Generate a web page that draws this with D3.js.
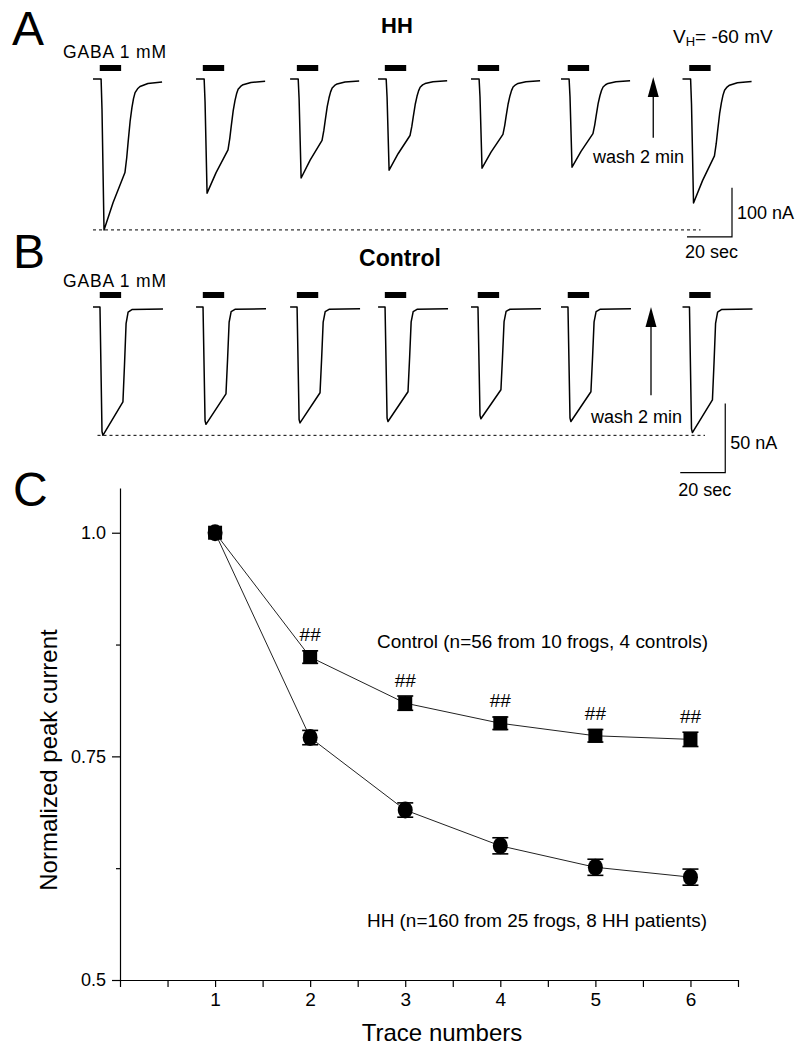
<!DOCTYPE html>
<html lang="en">
<head>
<meta charset="UTF-8">
<title>GABA currents HH vs Control</title>
<script src="https://d3js.org/d3.v7.min.js"></script>
<style>
  body { margin: 0; background: #fff; }
  svg text { font-family: "Liberation Sans", Arial, sans-serif; fill: #000; }
</style>
</head>
<body>
<div id="chart"></div>
<script>
// ---- data ----
// start of each displayed sweep on the common time axis (s)
const traceStart = [0, 45.8, 87.6, 126.7, 168, 208, 262];
// peak inward current of each sweep (nA)
const hhPeaks = [308, 233, 202, 186, 182, 180, 253];
const ctlPeaks = [93, 85, 84, 83, 81, 83, 91];
// sweep shape: [time in sweep (s), fraction of peak]
const hhShape = [[0, 0], [3.6, 0], [4.0, 0.2], [4.9, 1.0], [8.9, 0.82], [14.2, 0.62], [15.0, 0.52],
  [15.6, 0.42], [16.5, 0.28], [17.3, 0.19], [18.0, 0.13], [18.7, 0.09], [19.8, 0.065], [20.9, 0.05],
  [24.4, 0.03], [30.7, 0.02]];
const ctlShape = [[0, 0], [3.1, 0], [4.0, 0.97], [4.4, 1.0], [13.3, 0.74], [14.0, 0.45], [14.7, 0.13],
  [15.6, 0.04], [17.3, 0.02], [31.1, 0.015]];
const gabaWindow = [3, 12.5];

// panel C
const traceNums = [1, 2, 3, 4, 5, 6];
const hhMean = [1.0, 0.771, 0.690, 0.650, 0.626, 0.615];
const hhErr = [0, 0.008, 0.008, 0.009, 0.009, 0.009];
const ctlMean = [1.0, 0.861, 0.8095, 0.787, 0.773, 0.769];
const ctlErr = [0, 0.007, 0.008, 0.007, 0.007, 0.008];
const sigMarks = ["", "##", "##", "##", "##", "##"];
const yMajor = [0.5, 0.75, 1.0];
const yMinor = [0.625, 0.875];
const xTickVals = d3.range(0, 6.51, 0.5);

const svg = d3.select("#chart").append("svg")
  .attr("width", 806).attr("height", 1050);
svg.append("rect").attr("width", 806).attr("height", 1050).attr("fill", "#fff");

// ---- panels A and B ----
const xT = d3.scaleLinear().domain([0, 20]).range([93, 138]);
const yA = d3.scaleLinear().domain([0, -100]).range([79, 128]);
const yB = d3.scaleLinear().domain([0, -50]).range([307, 376]);

function drawTraces(g, yS, shape, peaks, barY) {
  const line = d3.line();
  traceStart.forEach((t0, i) => {
    const pts = shape.map(d => [xT(t0 + d[0]), yS(-peaks[i] * d[1])]);
    g.append("path").attr("d", line(pts))
      .attr("fill", "none").attr("stroke", "#000").attr("stroke-width", 1.5)
      .attr("stroke-linejoin", "round");
    g.append("rect")
      .attr("x", xT(t0 + gabaWindow[0]))
      .attr("y", barY)
      .attr("width", xT(t0 + gabaWindow[1]) - xT(t0 + gabaWindow[0]))
      .attr("height", 6).attr("fill", "#000");
  });
}

function arrow(g, x, y1, y2) {
  g.append("line").attr("x1", x).attr("x2", x).attr("y1", y1).attr("y2", y2 + 18)
    .attr("stroke", "#000").attr("stroke-width", 1.3);
  g.append("path").attr("d", `M${x},${y2} L${x - 5.5},${y2 + 20} L${x + 5.5},${y2 + 20} Z`)
    .attr("fill", "#000");
}

function scaleBar(g, yS, tEnd, iTop, iBot, vLabel, vLabelDy, hLabelDy) {
  const xr = xT(tEnd), xl = xT(tEnd - 20);
  g.append("path")
    .attr("d", `M${xr},${yS(iTop)} L${xr},${yS(iBot)} L${xl},${yS(iBot)}`)
    .attr("fill", "none").attr("stroke", "#000").attr("stroke-width", 1.2);
  g.append("text").attr("x", xr + 5).attr("y", yS(iBot) + vLabelDy)
    .attr("font-size", 18).text(vLabel);
  g.append("text").attr("x", xl - 2).attr("y", yS(iBot) + hLabelDy)
    .attr("font-size", 18).text("20 sec");
}

// panel A
const gA = svg.append("g");
gA.append("text").attr("x", 12).attr("y", 45).attr("font-size", 48).text("A");
gA.append("text").attr("x", 397).attr("y", 33).attr("font-size", 22)
  .attr("font-weight", "bold").attr("text-anchor", "middle").text("HH");
gA.append("text").attr("x", 63).attr("y", 58).attr("font-size", 17.5)
  .attr("textLength", 103).attr("lengthAdjust", "spacing").text("GABA 1 mM");
const vh = gA.append("text").attr("x", 673).attr("y", 43).attr("font-size", 19);
vh.append("tspan").text("V");
vh.append("tspan").attr("font-size", 13).attr("dy", 3).text("H");
vh.append("tspan").attr("dy", -3).text("= -60 mV");
gA.append("line").attr("x1", xT(0)).attr("x2", xT(270))
  .attr("y1", yA(-hhPeaks[0])).attr("y2", yA(-hhPeaks[0]))
  .attr("stroke", "#000").attr("stroke-width", 1).attr("stroke-dasharray", "3,3");
drawTraces(gA, yA, hhShape, hhPeaks, yA(0) - 14);
arrow(gA, xT(249), yA(-120), yA(4));
gA.append("text").attr("x", 593).attr("y", 163).attr("font-size", 18).text("wash 2 min");
scaleBar(gA, yA, 284, -222, -322, "100 nA", -18, 21);

// panel B
const gB = svg.append("g");
gB.append("text").attr("x", 13).attr("y", 268).attr("font-size", 48).text("B");
gB.append("text").attr("x", 400).attr("y", 266).attr("font-size", 23)
  .attr("font-weight", "bold").attr("text-anchor", "middle").text("Control");
gB.append("text").attr("x", 63).attr("y", 287).attr("font-size", 17.5)
  .attr("textLength", 103).attr("lengthAdjust", "spacing").text("GABA 1 mM");
gB.append("line").attr("x1", xT(2)).attr("x2", xT(272))
  .attr("y1", yB(-ctlPeaks[0])).attr("y2", yB(-ctlPeaks[0]))
  .attr("stroke", "#000").attr("stroke-width", 1).attr("stroke-dasharray", "3,3");
drawTraces(gB, yB, ctlShape, ctlPeaks, yB(0) - 15);
arrow(gB, xT(248), yB(-64), yB(0));
gB.append("text").attr("x", 591).attr("y", 423).attr("font-size", 18).text("wash 2 min");
scaleBar(gB, yB, 281, -70, -120, "50 nA", -24, 23);

// ---- panel C ----
const gC = svg.append("g");
gC.append("text").attr("x", 13).attr("y", 506).attr("font-size", 48).text("C");

const x = d3.scaleLinear().domain([0, 6.5]).range([120, 738]);
const y = d3.scaleLinear().domain([0.5, 1.05]).range([980, 488]);

const yAxis = gC.append("g").attr("transform", "translate(120,0)")
  .call(d3.axisLeft(y).tickValues(yMajor).tickSize(8).tickSizeOuter(0).tickPadding(6)
    .tickFormat(d => d === 1 ? "1.0" : String(d)));
gC.append("g").attr("transform", "translate(120,0)")
  .call(d3.axisLeft(y).tickValues(yMinor).tickSize(4).tickFormat(""))
  .select(".domain").remove();
const xAxis = gC.append("g").attr("transform", "translate(0,980)")
  .call(d3.axisBottom(x).tickValues(xTickVals).tickSize(7).tickSizeOuter(0).tickPadding(6)
    .tickFormat(d => (Number.isInteger(d) && d > 0) ? d : ""));
gC.selectAll(".domain, .tick line").attr("stroke", "#000").attr("stroke-width", 1.2);
yAxis.selectAll("text").attr("font-size", 18).attr("font-family", "Liberation Sans");
xAxis.selectAll("text").attr("font-size", 19).attr("font-family", "Liberation Sans");

gC.append("text").attr("transform", "translate(57,760) rotate(-90)")
  .attr("text-anchor", "middle").attr("font-size", 24).text("Normalized peak current");
gC.append("text").attr("x", 442).attr("y", 1041)
  .attr("text-anchor", "middle").attr("font-size", 24).text("Trace numbers");

const hhData = traceNums.map((t, i) => ({ t, v: hhMean[i], e: hhErr[i] }));
const ctlData = traceNums.map((t, i) => ({ t, v: ctlMean[i], e: ctlErr[i], s: sigMarks[i] }));

const ln = d3.line().x(d => x(d.t)).y(d => y(d.v));
[hhData, ctlData].forEach(ds => {
  gC.append("path").datum(ds).attr("d", ln)
    .attr("fill", "none").attr("stroke", "#222").attr("stroke-width", 1);
});

function errBars(ds) {
  const eb = gC.append("g").selectAll("g").data(ds.filter(d => d.e > 0)).enter().append("g")
    .attr("stroke", "#000").attr("stroke-width", 1.6);
  eb.append("line").attr("x1", d => x(d.t)).attr("x2", d => x(d.t))
    .attr("y1", d => y(d.v + d.e)).attr("y2", d => y(d.v - d.e));
  [1, -1].forEach(s => {
    eb.append("line").attr("x1", d => x(d.t) - 8).attr("x2", d => x(d.t) + 8)
      .attr("y1", d => y(d.v + s * d.e)).attr("y2", d => y(d.v + s * d.e));
  });
}
errBars(hhData);
errBars(ctlData);

gC.selectAll(".sq").data(ctlData).enter().append("rect")
  .attr("x", d => x(d.t) - 7).attr("y", d => y(d.v) - 7)
  .attr("width", 14).attr("height", 14).attr("fill", "#000");
gC.selectAll(".dot").data(hhData).enter().append("ellipse")
  .attr("cx", d => x(d.t)).attr("cy", d => y(d.v))
  .attr("rx", 7.5).attr("ry", 8.5).attr("fill", "#000");

gC.selectAll(".sig").data(ctlData.filter(d => d.s)).enter().append("text")
  .attr("x", d => x(d.t)).attr("y", d => y(d.v) - 16)
  .attr("text-anchor", "middle").attr("font-size", 19)
  .attr("font-family", "Liberation Serif").text(d => d.s);

gC.append("text").attr("x", 377).attr("y", 648).attr("font-size", 18.5)
  .attr("textLength", 331).attr("lengthAdjust", "spacingAndGlyphs")
  .text("Control (n=56 from 10 frogs, 4 controls)");
gC.append("text").attr("x", 367).attr("y", 927).attr("font-size", 18.5)
  .attr("textLength", 340).attr("lengthAdjust", "spacingAndGlyphs")
  .text("HH (n=160 from 25 frogs, 8 HH patients)");
</script>
</body>
</html>
